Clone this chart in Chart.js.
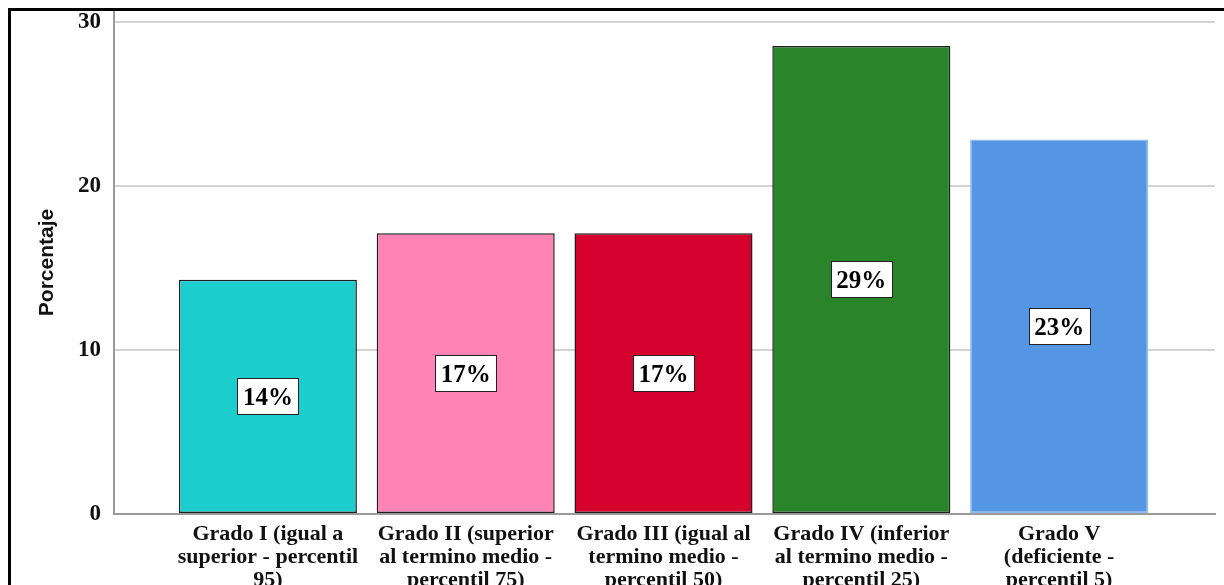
<!DOCTYPE html>
<html>
<head>
<meta charset="utf-8">
<script src="https://cdn.jsdelivr.net/npm/chart.js@4/dist/chart.umd.min.js"></script>
<style>
  html, body { margin: 0; padding: 0; background: #fff; }
  #wrap { position: relative; width: 1224px; height: 585px; overflow: hidden; }
  #frame { position: absolute; left: 8px; top: 8px; width: 1300px; height: 700px;
           border-left: 3px solid #000; border-top: 3px solid #000; box-sizing: border-box; pointer-events: none; }
  canvas { position: absolute; left: 0; top: 0; }
</style>
</head>
<body>
<div id="wrap">
  <canvas id="c" width="1224" height="585"></canvas>
  <div id="frame"></div>
</div>
<script>
const categories = [
  ["Grado I (igual a", "superior - percentil", "95)"],
  ["Grado II (superior", "al termino medio -", "percentil 75)"],
  ["Grado III (igual al", "termino medio -", "percentil 50)"],
  ["Grado IV (inferior", "al termino medio -", "percentil 25)"],
  ["Grado V", "(deficiente -", "percentil 5)"]
];
const values = [14.29, 17.14, 17.14, 28.57, 22.86];
const valueLabels = ["14%", "17%", "17%", "29%", "23%"];
const barColors = ["#1ccdcd", "#ff83b5", "#d6002e", "#2a852a", "#5596e4"];
const borderColors = ["#1e1e1e", "#1e1e1e", "#1e1e1e", "#1e1e1e", "#8fbaf0"];
const yTicks = [0, 10, 20, 30];

const labelBoxes = {
  id: 'labelBoxes',
  afterDatasetsDraw(chart) {
    const ctx = chart.ctx;
    const meta = chart.getDatasetMeta(0);
    ctx.save();
    ctx.font = 'bold 25px "Liberation Serif", "Times New Roman", serif';
    ctx.textAlign = 'center';
    ctx.textBaseline = 'middle';
    meta.data.forEach((bar, i) => {
      const cx = bar.x;
      const cy = (bar.y + bar.base) / 2;
      const w = 61, h = 36;
      ctx.fillStyle = '#fff';
      ctx.fillRect(Math.round(cx - w / 2) + 0.5, Math.round(cy - h / 2) + 0.5, w, h);
      ctx.strokeStyle = '#222';
      ctx.lineWidth = 1;
      ctx.strokeRect(Math.round(cx - w / 2) + 0.5, Math.round(cy - h / 2) + 0.5, w, h);
      ctx.fillStyle = '#000';
      ctx.fillText(valueLabels[i], cx, cy + 2);
    });
    ctx.restore();
  }
};

new Chart(document.getElementById('c'), {
  type: 'bar',
  data: {
    datasets: [{
      data: values.map((v, i) => ({ x: i, y: v })),
      backgroundColor: barColors,
      borderColor: borderColors,
      borderWidth: 1.5,
      borderSkipped: false,
      barPercentage: 0.9,
      categoryPercentage: 1.0
    }]
  },
  options: {
    responsive: false,
    animation: false,
    devicePixelRatio: 1,
    layout: { padding: { top: 11, right: 9, left: 0, bottom: 0 } },
    plugins: { legend: { display: false }, tooltip: { enabled: false } },
    scales: {
      x: {
        type: 'linear',
        offset: false,
        min: -0.778,
        max: 4.788,
        afterBuildTicks: (axis) => { axis.ticks = categories.map((c, i) => ({ value: i })); },
        afterFit: (axis) => { axis.height = 71; axis.paddingLeft = 0; axis.paddingRight = 0; },
        grid: { display: false, drawTicks: false },
        border: { display: true, color: '#9a9a9a', width: 2 },
        ticks: {
          autoSkip: false,
          maxRotation: 0,
          padding: 9,
          color: '#111',
          font: { family: '"Liberation Serif", "Times New Roman", serif', size: 22, weight: 'bold', lineHeight: 1.045 },
          callback: (v) => categories[v]
        }
      },
      y: {
        min: 0,
        max: 30.7,
        afterBuildTicks: (axis) => { axis.ticks = yTicks.map(v => ({ value: v })); },
        afterFit: (axis) => { axis.width = 114; axis.paddingTop = 0; axis.paddingBottom = 0; },
        grid: { color: '#d3d3d3', lineWidth: 2, drawTicks: false },
        border: { display: true, color: '#9a9a9a', width: 2 },
        ticks: {
          padding: 13,
          color: '#111',
          font: { family: '"Liberation Serif", "Times New Roman", serif', size: 23, weight: 'bold' }
        },
        title: {
          display: true,
          text: 'Porcentaje',
          color: '#111',
          padding: { top: 35, bottom: 0 },
          font: { family: '"Liberation Sans", Arial, sans-serif', size: 21, weight: 'bold' }
        }
      }
    }
  },
  plugins: [labelBoxes]
});
</script>
</body>
</html>
